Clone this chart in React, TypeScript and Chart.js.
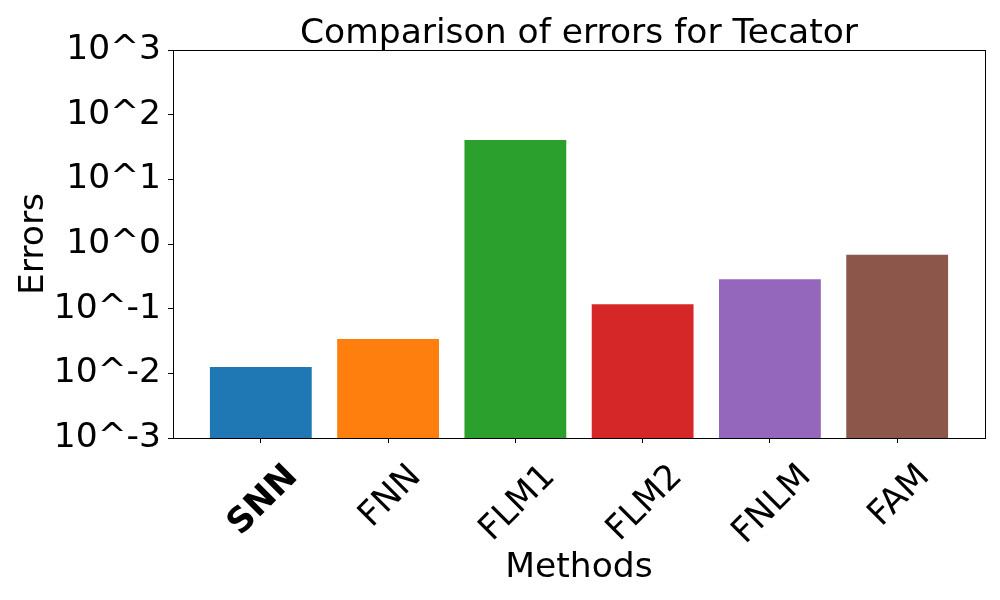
import React, { useEffect, useRef } from "react";
import { Chart, registerables } from "chart.js";

Chart.register(...registerables);

const methods = ["SNN", "FNN", "FLM1", "FLM2", "FNLM", "FAM"];
const errors = [0.0125, 0.034, 40.5, 0.117, 0.284, 0.68];
const barColors = ["#1f77b4", "#ff7f0e", "#2ca02c", "#d62728", "#9467bd", "#8c564b"];
const yTickValues = [0.001, 0.01, 0.1, 1, 10, 100, 1000];
const titleText = "Comparison of errors for Tecator";
const xTitle = "Methods";
const yTitle = "Errors";

const FONT = '"DejaVu Sans", sans-serif';
const FS = 34.5;

const framePlugin = {
  id: "frameAndLabels",
  afterDraw(chart: any) {
    const { ctx, chartArea } = chart;
    ctx.save();
    ctx.strokeStyle = "#000";
    ctx.lineWidth = 1;
    ctx.strokeRect(
      Math.round(chartArea.left) + 0.5,
      Math.round(chartArea.top) + 0.5,
      Math.round(chartArea.right - chartArea.left),
      Math.round(chartArea.bottom - chartArea.top)
    );
    ctx.fillStyle = "#000";
    // title centred over the plot area
    ctx.font = FS + "px " + FONT;
    ctx.textAlign = "center";
    ctx.textBaseline = "alphabetic";
    ctx.fillText(titleText, (chartArea.left + chartArea.right) / 2, chartArea.top - 7);
    // rotated category labels, centred on their ticks
    const xs = chart.scales.x;
    const capH = 0.729 * FS;
    ctx.textAlign = "left";
    methods.forEach((m, i) => {
      const px = xs.getPixelForValue(i);
      ctx.font = (i === 0 ? "bold " : "") + FS + "px " + FONT;
      const w = ctx.measureText(m).width;
      const cy = chartArea.bottom + 22 + (w + capH) * 0.3536;
      ctx.save();
      ctx.translate(px, cy);
      ctx.rotate(-Math.PI / 4);
      ctx.fillText(m, -w / 2, capH / 2);
      ctx.restore();
    });
    ctx.restore();
  },
};

export default function App() {
  const ref = useRef<HTMLCanvasElement>(null);
  useEffect(() => {
    if (!ref.current) return;
    const chart = new Chart(ref.current, {
      type: "bar",
      data: {
        datasets: [
          {
            data: errors.map((v, i) => ({ x: i, y: v })),
            backgroundColor: barColors,
            borderWidth: 0,
            categoryPercentage: 0.8,
            barPercentage: 1.0,
          } as any,
        ],
      },
      options: {
        responsive: false,
        animation: false,
        layout: { padding: { left: 0, right: 15, top: 50, bottom: 0 } },
        plugins: {
          legend: { display: false },
          tooltip: { enabled: false },
          title: { display: false },
        },
        scales: {
          x: {
            type: "linear",
            min: -0.69,
            max: 5.69,
            offset: false,
            afterBuildTicks: (s: any) => {
              s.ticks = methods.map((_, i) => ({ value: i }));
            },
            afterFit: (s: any) => {
              s.height = 162;
            },
            ticks: { display: false },
            grid: {
              display: true,
              offset: false,
              drawOnChartArea: false,
              drawTicks: true,
              tickLength: 5,
              color: "#000",
              lineWidth: 1,
            },
            border: { display: true, color: "#000", width: 1 },
            title: {
              display: true,
              text: xTitle,
              color: "#000",
              font: { family: FONT, size: FS, lineHeight: 1 },
              padding: { top: 0, bottom: 15 },
            },
          },
          y: {
            type: "logarithmic",
            min: 0.001,
            max: 1000,
            afterBuildTicks: (s: any) => {
              s.ticks = yTickValues.map((v) => ({ value: v }));
            },
            afterFit: (s: any) => {
              s.width = 173;
            },
            ticks: {
              autoSkip: false,
              color: "#000",
              padding: 7,
              font: { family: FONT, size: FS },
              callback: (v: any) => "10^" + Math.round(Math.log10(Number(v))),
            },
            grid: {
              display: true,
              drawOnChartArea: false,
              drawTicks: true,
              tickLength: 5,
              color: "#000",
              lineWidth: 1,
            },
            border: { display: true, color: "#000", width: 1 },
            title: {
              display: true,
              text: yTitle,
              color: "#000",
              font: { family: FONT, size: FS, lineHeight: 1 },
              padding: { top: 17, bottom: 0 },
            },
          },
        },
      },
      plugins: [framePlugin],
    });
    return () => chart.destroy();
  }, []);
  return (
    <div style={{ position: "absolute", left: 0, top: 0, width: 1000, height: 600, background: "#fff" }}>
      <canvas ref={ref} width={1000} height={600} />
    </div>
  );
}
